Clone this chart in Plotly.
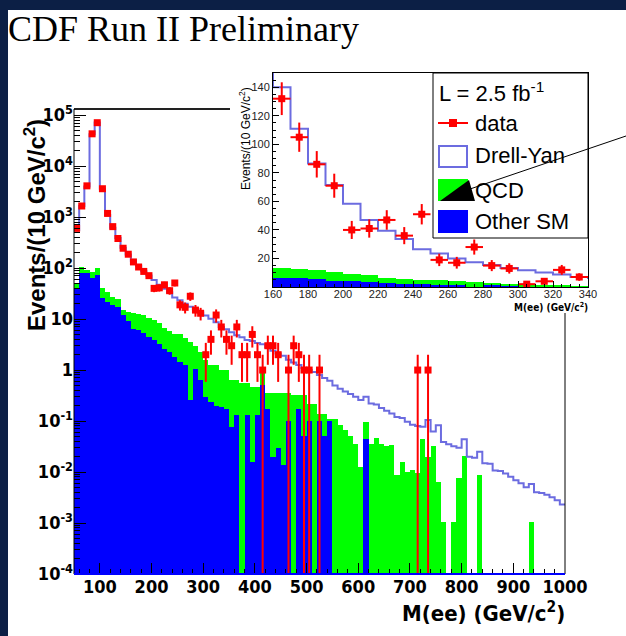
import numpy as np
import plotly.graph_objects as go

W, H = 626, 636
def fx(px): return px / W
def fy(py): return 1 - py / H

# ---- data (10 GeV bins from 50 to 1000 GeV/c^2) ----
bin_low = list(range(50, 1000, 10))
bin_center = [b + 5 for b in bin_low]

data_counts = [600, 1650, 4100, 43000, 71000, 3600, 1180, 650, 380, 245,
               187, 132, 105, 86, 71, 40, 41, 47, 36, 51,
               19, 17, 28, 15, 13, 2, 4, 12, 7, 4,
               3, 7, 2, 2, 5, 2, 1, 3, 3, 2,
               0, 1, 3, 2, 1, 1, 0, 1, 0, 0,
               0, 0, 0, 0, 0, 0, 0, 0, 0, 0,
               0, 0, 0, 0, 0, 0, 1, 0, 1, 0,
               0, 0, 0, 0, 0, 0, 0, 0, 0, 0,
               0, 0, 0, 0, 0, 0, 0, 0, 0, 0,
               0, 0, 0, 0, 0]

total_mc = [560, 1650, 4000, 42000, 72000, 3600, 1100, 620, 390, 250,
            185, 140, 111, 86.6, 71.5, 58.4, 47, 39.5, 33.6, 26.4,
            23.5, 20, 17.4, 15.5, 13.4, 11.8, 10.1, 8.7, 7, 6.3,
            5.5, 4.8, 4.4, 3.9, 3.7, 3.4, 3.2, 2.8, 2.4, 2.1,
            1.9, 1.6, 1.4, 1.25, 1.1, 1.0, 0.92, 0.8, 0.7, 0.62,
            0.5, 0.43, 0.38, 0.34, 0.3, 0.26, 0.30, 0.22, 0.21, 0.18,
            0.16, 0.14, 0.12, 0.115, 0.097, 0.085, 0.08, 0.077, 0.105, 0.062,
            0.083, 0.039, 0.035, 0.032, 0.030, 0.044, 0.020, 0.019, 0.025, 0.0148,
            0.0145, 0.0107, 0.0105, 0.0094, 0.0081, 0.0069, 0.006, 0.005, 0.0058, 0.004,
            0.0039, 0.0036, 0.0032, 0.0028, 0.0023]

qcd_plus_sm = [50, 105, 90, 83, 100, 40, 34, 27, 25, 15,
               14, 13.4, 12.5, 11.8, 10.6, 9.4, 8.2, 6.6, 5.9, 5.2,
               5.0, 4.2, 3.5, 2.9, 2.3, 1.6, 1.25, 1.25, 1.0, 1.0,
               0.63, 0.63, 0.55, 0.55, 0.46, 0.46, 0.9, 0.35, 0.35, 0.35,
               0.35, 0.35, 0.32, 0.32, 0.32, 0.22, 0.22, 0.14, 0.14, 0.11,
               0.11, 0.085, 0.066, 0.05, 0.036, 0.0126, 0.097, 0.036, 0.046, 0.036,
               0.032, 0.034, 0.0087, 0.0158, 0.0102, 0.0109, 0.0094, 0.045, 0.02, 0.033,
               0.0065, 0.00107, 0, 0.00107, 0.0075, 0.021, 0, 0, 0.0087, 0,
               0, 0, 0, 0, 0, 0, 0, 0, 0.00107, 0,
               0, 0, 0, 0, 0]

other_sm = [40, 80, 80, 63, 72, 26, 22, 19, 17, 12,
            9, 6.5, 6, 5.3, 4.5, 3.9, 3.3, 2.6, 2.3, 1.8,
            1.45, 1.25, 0.26, 1.07, 0.63, 0.3, 0.24, 0.2, 0.19, 0.17,
            0.078, 0.13, 0, 0.13, 0.016, 0.13, 0.51, 0.17, 0.02, 0.03,
            0.014, 0.1, 0, 0.17, 0.05, 0.1, 0, 0.1, 0.05, 0.1,
            0, 0, 0, 0, 0, 0, 0.045, 0, 0, 0,
            0, 0, 0, 0, 0, 0, 0, 0, 0, 0,
            0, 0, 0, 0, 0, 0, 0, 0, 0, 0,
            0, 0, 0, 0, 0, 0, 0, 0, 0, 0,
            0, 0, 0, 0, 0]

main_ytick_vals = [1e-4, 1e-3, 1e-2, 1e-1, 1, 10, 1e2, 1e3, 1e4, 1e5]
main_ytick_text = ["10<sup>-4</sup>", "10<sup>-3</sup>", "10<sup>-2</sup>", "10<sup>-1</sup>",
                   "1", "10", "10<sup>2</sup>", "10<sup>3</sup>", "10<sup>4</sup>", "10<sup>5</sup>"]

GREEN = "#00ff00"
BLUE = "#0000ff"
RED = "#ff0000"
DYC = "#6c6ce0"
NARROW = "Liberation Sans Narrow, DejaVu Sans Condensed, Arial Narrow, sans-serif"
SANS = "Liberation Sans, Arial, sans-serif"

d_y = [c if c > 0 else None for c in data_counts]
d_err = [float(np.sqrt(c)) if c > 0 else None for c in data_counts]
g_y = [v if v > 0 else None for v in qcd_plus_sm]
b_y = [v if v > 0 else None for v in other_sm]
step_x = bin_low + [1000]
step_y = total_mc + [total_mc[-1]]

fig = go.Figure()

def add_set(xa, ya, msize):
    fig.add_trace(go.Bar(x=bin_center, y=g_y, width=10, marker=dict(color=GREEN, line=dict(width=0)),
                         xaxis=xa, yaxis=ya, hoverinfo="skip"))
    fig.add_trace(go.Bar(x=bin_center, y=b_y, width=10, marker=dict(color=BLUE, line=dict(width=0)),
                         xaxis=xa, yaxis=ya, hoverinfo="skip"))
    fig.add_trace(go.Scatter(x=step_x, y=step_y, mode="lines", line=dict(color=DYC, width=2, shape="hv"),
                             xaxis=xa, yaxis=ya, hoverinfo="skip"))
    fig.add_trace(go.Scatter(x=bin_center, y=d_y, mode="markers",
                             marker=dict(color=RED, size=msize, symbol="square"),
                             error_y=dict(type="data", array=d_err, color=RED, thickness=2, width=0),
                             error_x=dict(type="constant", value=5, color=RED, thickness=2, width=0),
                             xaxis=xa, yaxis=ya, hoverinfo="skip"))

add_set("x", "y", 7)
add_set("x2", "y2", 7)

# main frame geometry (pixels)
ML, MR, MT, MB = 74, 565, 109, 574
# inset geometry
IL, IR, IT, IB = 273, 588, 73, 287

fig.update_layout(
    width=W, height=H, autosize=False,
    margin=dict(l=0, r=0, t=0, b=0, pad=0, autoexpand=False),
    paper_bgcolor="#0c1f45", plot_bgcolor="white", showlegend=False,
    barmode="overlay", bargap=0,
    xaxis=dict(domain=[fx(ML), fx(MR)], range=[50, 1000], anchor="y", automargin=False,
               tickmode="linear", tick0=0, dtick=100, ticks="inside", ticklen=11, tickwidth=1,
               tickcolor="black", showgrid=False, zeroline=False, showline=False,
               minor=dict(dtick=20, tick0=0, ticks="inside", ticklen=5, tickcolor="black", showgrid=False),
               tickfont=dict(family=NARROW, size=18, color="black", weight="bold")),
    yaxis=dict(domain=[fy(MB), fy(MT)], type="log", range=[-4, 5.12], anchor="x", automargin=False,
               tickmode="array", tickvals=main_ytick_vals, ticktext=main_ytick_text,
               ticks="inside", ticklen=12, tickcolor="black", showgrid=False, zeroline=False,
               showline=False,
               minor=dict(dtick="D1", ticks="inside", ticklen=6, tickcolor="black", showgrid=False),
               tickfont=dict(family=NARROW, size=18, color="black", weight="bold")),
    xaxis2=dict(domain=[fx(IL), fx(IR)], range=[160, 340], anchor="y2", automargin=False,
                tickmode="linear", tick0=0, dtick=20, ticks="inside", ticklen=6, tickcolor="black",
                showgrid=False, zeroline=False, showline=True, linecolor="black", linewidth=1, mirror=True,
                minor=dict(dtick=5, ticks="inside", ticklen=3, tickcolor="black", showgrid=False),
                ticklabelstandoff=-3,
                tickfont=dict(family=SANS, size=11, color="#222")),
    yaxis2=dict(domain=[fy(IB), fy(IT)], range=[0, 150], anchor="x2", automargin=False,
                tickmode="array", tickvals=[20, 40, 60, 80, 100, 120, 140],
                ticks="inside", ticklen=6, tickcolor="black",
                showgrid=False, zeroline=False, showline=True, linecolor="black", linewidth=1, mirror=True,
                minor=dict(dtick=5, ticks="inside", ticklen=3, tickcolor="black", showgrid=False),
                tickfont=dict(family=SANS, size=11, color="#222")),
)

shapes = []
def prect(x0, y0, x1, y1, fill, line=None, lw=0, layer="below"):
    shapes.append(dict(type="rect", xref="paper", yref="paper", x0=fx(x0), x1=fx(x1), y0=fy(y1), y1=fy(y0),
                       fillcolor=fill, line=dict(color=line or fill, width=lw), layer=layer))
def pline(x0, y0, x1, y1, color, w, layer="above"):
    shapes.append(dict(type="line", xref="paper", yref="paper", x0=fx(x0), x1=fx(x1), y0=fy(y0), y1=fy(y1),
                       line=dict(color=color, width=w), layer=layer))

# white canvas
prect(8, 10, 626, 636, "white", layer="below")
# main frame lines
pline(ML, MT, 230, MT, "#222", 2)
pline(ML, MT, ML, MB, "black", 1)
pline(MR, 313, MR, MB, "black", 1)
pline(ML, MB, MR, MB, BLUE, 2)
# legend
prect(433, 73, 588, 238, "white", line="black", lw=1, layer="above")
pline(438, 123, 468, 123, RED, 2)
prect(449, 119, 457, 127, RED, layer="above")
prect(439, 146, 467, 167, "white", line=DYC, lw=2, layer="above")
prect(438, 179, 468, 201, GREEN, layer="above")
shapes.append(dict(type="path", xref="paper", yref="paper",
                   path="M %f,%f L %f,%f L %f,%f Z" % (fx(440), fy(201), fx(469), fy(180), fx(475), fy(201)),
                   fillcolor="black", line=dict(color="black", width=0), layer="above"))
prect(438, 210, 468, 233, BLUE, layer="above")
pline(470, 189, 626, 136, "black", 1)
fig.update_layout(shapes=shapes)

ann = []
def text(px, py, s, size, family=SANS, xanchor="left", yanchor="middle", angle=0, color="black", weight="normal"):
    ann.append(dict(x=fx(px), y=fy(py), xref="paper", yref="paper", text=s, showarrow=False,
                    xanchor=xanchor, yanchor=yanchor, textangle=angle,
                    font=dict(family=family, size=size, color=color, weight=weight)))

text(6, 29, "CDF Run II Preliminary", 36, family="Liberation Serif, Times New Roman, serif")
text(35, 225, "Events/(10 GeV/c<sup>2</sup>)", 24, family=SANS, xanchor="center", angle=-90, weight="bold")
text(567, 612, "M(ee) (GeV/c<sup>2</sup>)", 22, family=NARROW, xanchor="right", weight="bold")
text(245, 138, "Events/(10 GeV/c<sup>2</sup>)", 12, family=SANS, xanchor="center", angle=-90)
text(590, 307, "M(ee) (GeV/c<sup>2</sup>)", 10, family=NARROW, xanchor="right", weight="bold")
text(437, 92, "L = 2.5 fb<sup>-1</sup>", 22)
text(473, 124, "data", 22)
text(473, 156, "Drell-Yan", 22)
text(473, 190, "QCD", 22)
text(473, 221, "Other SM", 22)
fig.update_layout(annotations=ann)

fig.write_html("out.html", config={"displayModeBar": False, "staticPlot": True},
               post_script="document.body.style.margin='0px';document.body.style.overflow='hidden';")
